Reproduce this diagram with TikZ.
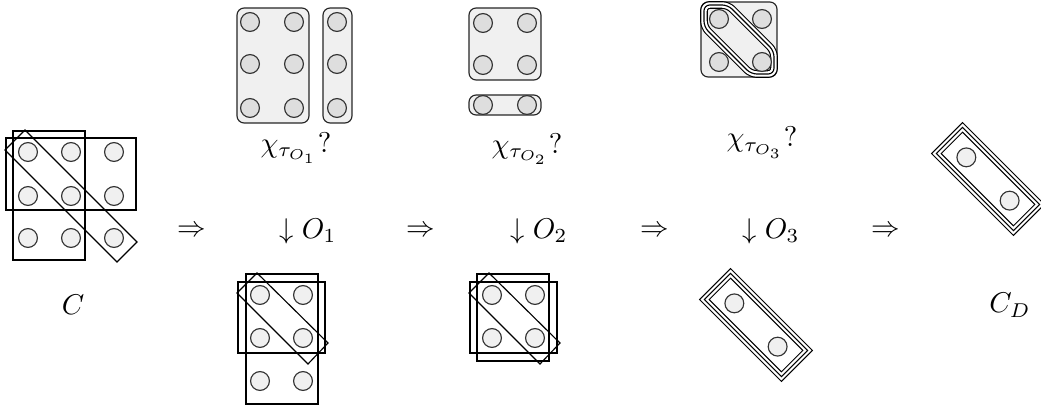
\documentclass[tikz,border=0pt]{standalone}
\usepackage{amsmath,amssymb}
\usepackage{xcolor}
\usepackage{tikz}

\begin{document}
\begin{tikzpicture}[x=0.35pt, y=-0.35pt,
        dot/.style={circle, draw=black!80, fill=dotlight, minimum size=6.6pt, inner sep=0pt},
        topdot/.style={dot, fill=dotdark},
        group/.style={draw=black!85, fill=boxfill, rounded corners=2.5pt},
        triple/.style={double, double distance=1.9pt},
        lbl/.style={anchor=base}]
        % Define colors for the fills
        \colorlet{boxfill}{black!6}
        \colorlet{dotlight}{black!6}
        \colorlet{dotdark}{black!13}

        \useasboundingbox (0,0) rectangle (1041,407);

        % 1. Start configuration C (Left)
        \draw (13,131) rectangle (85,260);
        \draw (6,138) rectangle (136,210);
        \draw (5,150) -- (25,130) -- (137,242) -- (117,262) -- cycle;
        \node[dot] (c11) at (28,152) {}; \node[dot] (c12) at (71,152) {}; \node[dot] (c13) at (114,152) {};
        \node[dot] (c21) at (28,196) {}; \node[dot] (c22) at (71,196) {}; \node[dot] (c23) at (114,196) {};
        \node[dot] (c31) at (28,238) {}; \node[dot] (c32) at (71,238) {}; \node[dot] (c33) at (114,238) {};
        \node[lbl] (cname) at (73,314) {$C$};

        % 2. First operation O_1
        \draw[group] (237,8) rectangle (309,123);
        \draw[group] (323,8) rectangle (352,123);
        \node[topdot] (ta11) at (250,22) {}; \node[topdot] (ta12) at (294,22) {}; \node[topdot] (ta13) at (337,22) {};
        \node[topdot] (ta21) at (250,64) {}; \node[topdot] (ta22) at (294,64) {}; \node[topdot] (ta23) at (337,64) {};
        \node[topdot] (ta31) at (250,108) {}; \node[topdot] (ta32) at (294,108) {}; \node[topdot] (ta33) at (337,108) {};
        \node[lbl] (chi1) at (296,152) {$\chi_{\tau_{O_1}}?$};
        \node (arr1) at (192,231) {$\Rightarrow$};
        \node (op1) at (308,231) {$\downarrow O_1$};

        \draw (246,274) rectangle (318,404);
        \draw (238,282) rectangle (325,353);
        \draw (237,293) -- (257,273) -- (328,343) -- (308,364) -- cycle;
        \node[dot] (ba11) at (260,295) {}; \node[dot] (ba12) at (303,295) {};
        \node[dot] (ba21) at (260,338) {}; \node[dot] (ba22) at (303,338) {};
        \node[dot] (ba31) at (260,381) {}; \node[dot] (ba32) at (303,381) {};

        % 3. Second operation O_2
        \draw[group] (469,8) rectangle (541,80);
        \draw[group] (469,95) rectangle (541,115);
        \node[topdot] (tb11) at (483,23) {}; \node[topdot] (tb12) at (527,23) {};
        \node[topdot] (tb21) at (483,65) {}; \node[topdot] (tb22) at (527,65) {};
        \node[topdot] (tb31) at (483,105) {}; \node[topdot] (tb32) at (527,105) {};
        \node[lbl] (chi2) at (527,153) {$\chi_{\tau_{O_2}}?$};
        \node (arr2) at (421,231) {$\Rightarrow$};
        \node (op2) at (539,231) {$\downarrow O_2$};

        \draw (477,274) rectangle (549,361);
        \draw (470,282) rectangle (557,353);
        \draw (469,293) -- (489,273) -- (560,343) -- (540,364) -- cycle;
        \node[dot] (bb11) at (492,295) {}; \node[dot] (bb12) at (535,295) {};
        \node[dot] (bb21) at (492,338) {}; \node[dot] (bb22) at (535,338) {};

        % 4. Third operation O_3
        \draw[group] (701,2) rectangle (777,77);
        \draw[triple, fill=boxfill, rounded corners=2pt]
            (704,5) -- (728,5) -- (774,51) -- (774,74) -- (751,74) -- (704,27) -- cycle;
        \draw[rounded corners=2pt]
            (704,5) -- (728,5) -- (774,51) -- (774,74) -- (751,74) -- (704,27) -- cycle;
        \node[topdot] (tc11) at (719,19) {}; \node[topdot] (tc12) at (762,19) {};
        \node[topdot] (tc21) at (719,62) {}; \node[topdot] (tc22) at (762,62) {};
        \node[lbl] (chi3) at (762,147) {$\chi_{\tau_{O_3}}?$};
        \node (arr3) at (655,231) {$\Rightarrow$};
        \node (op3) at (771,231) {$\downarrow O_3$};

        \begin{scope}[shift={(756,325)}, rotate=-45]
            \draw[triple] (-54.5,-18.5) rectangle (54.5,18.5);
            \draw (-54.5,-18.5) rectangle (54.5,18.5);
            \node[dot] (bc1) at (-30.6,0) {};
            \node[dot] (bc2) at (30.6,0) {};
        \end{scope}

        % 5. Result C_D (Right)
        \node (arr4) at (886,231) {$\Rightarrow$};
        \begin{scope}[shift={(988,179)}, rotate=-45]
            \draw[triple] (-54.5,-18.5) rectangle (54.5,18.5);
            \draw (-54.5,-18.5) rectangle (54.5,18.5);
            \node[dot] (d1) at (-30.6,0) {};
            \node[dot] (d2) at (30.6,0) {};
        \end{scope}
        \node[lbl] (cdname) at (1010,313) {$C_D$};

    \end{tikzpicture}
\end{document}
